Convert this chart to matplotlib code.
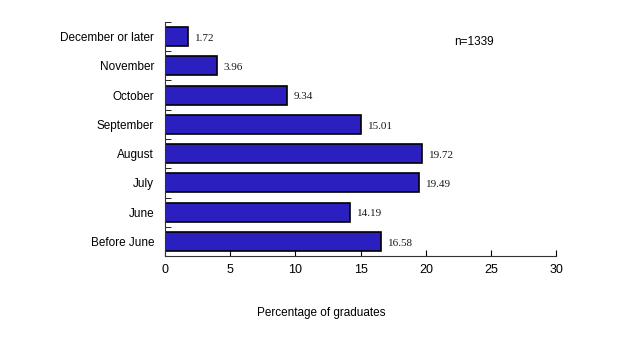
import matplotlib
matplotlib.use("Agg")
import matplotlib.pyplot as plt
import numpy as np

categories = ["December or later", "November", "October", "September",
              "August", "July", "June", "Before June"]
values = [1.72, 3.96, 9.34, 15.01, 19.72, 19.49, 14.19, 16.58]
xticks = [0, 5, 10, 15, 20, 25, 30]

fig = plt.figure(figsize=(6.4, 3.37), dpi=100)
ax = fig.add_axes([0.258, 0.240, 0.611, 0.695])

y = np.arange(len(categories))[::-1]
ax.barh(y, values, height=0.65, color="#2B1FC0", edgecolor="black", linewidth=1.2)

for yi, v in zip(y, values):
    ax.text(v + 0.55, yi - 0.06, f"{v:.2f}", va="center", ha="left",
            family="Liberation Serif", fontsize=8, color="#1a1a1a")

ax.set_xlim(0, 30)
ax.set_ylim(-0.5, len(categories) - 0.5)
ax.set_xticks(xticks)
ax.set_xticklabels([str(t) for t in xticks], family="Liberation Sans", fontsize=9)
ax.set_yticks(y)
ax.set_yticklabels(categories, family="Liberation Sans", fontsize=8.5)
ax.set_yticks(np.arange(-0.5, len(categories), 1.0), minor=True)

ax.tick_params(axis="y", which="major", length=0, pad=8)
ax.tick_params(axis="y", which="minor", direction="in", length=4, width=0.6)
ax.tick_params(axis="x", which="major", direction="in", length=4, width=0.8, pad=6)

for s in ["top", "right"]:
    ax.spines[s].set_visible(False)
for s in ["left", "bottom"]:
    ax.spines[s].set_linewidth(0.8)
    ax.spines[s].set_color("#333333")

ax.text(22.2, 6.8, "n=1339", family="Liberation Sans", fontsize=8.5, ha="left", va="center")
fig.text(0.502, 0.07, "Percentage of graduates", family="Liberation Sans",
         fontsize=8.5, ha="center", va="center")

fig.savefig("out.png", dpi=100)
